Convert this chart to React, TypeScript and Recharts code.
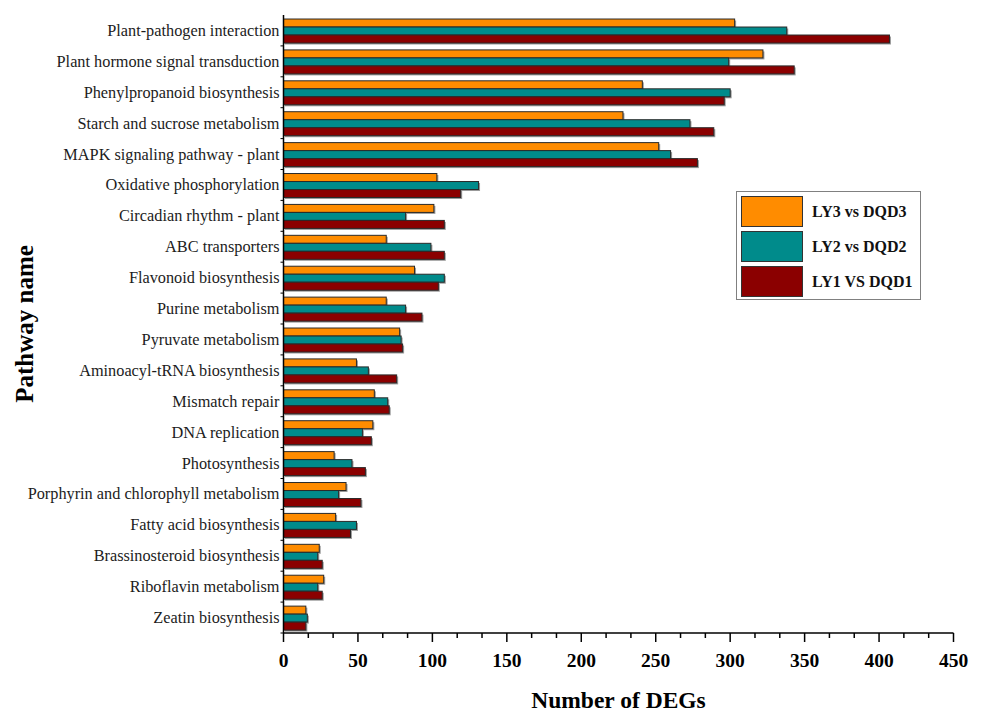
import React from 'react'
import { BarChart, Bar, XAxis, YAxis } from 'recharts'

const pathways = [
  'Plant-pathogen interaction',
  'Plant hormone signal transduction',
  'Phenylpropanoid biosynthesis',
  'Starch and sucrose metabolism',
  'MAPK signaling pathway - plant',
  'Oxidative phosphorylation',
  'Circadian rhythm - plant',
  'ABC transporters',
  'Flavonoid biosynthesis',
  'Purine metabolism',
  'Pyruvate metabolism',
  'Aminoacyl-tRNA biosynthesis',
  'Mismatch repair',
  'DNA replication',
  'Photosynthesis',
  'Porphyrin and chlorophyll metabolism',
  'Fatty acid biosynthesis',
  'Brassinosteroid biosynthesis',
  'Riboflavin metabolism',
  'Zeatin biosynthesis',
]

const ly3 = [303, 322, 241, 228, 252, 103, 101, 69, 88, 69, 78, 49, 61, 60, 34, 42, 35, 24, 27, 15]
const ly2 = [338, 299, 300, 273, 260, 131, 82, 99, 108, 82, 79, 57, 70, 53, 46, 37, 49, 23, 23, 16]
const ly1 = [407, 343, 296, 289, 278, 119, 108, 108, 104, 93, 80, 76, 71, 59, 55, 52, 45, 26, 26, 15]

const seriesKeys = ['ly3', 'ly2', 'ly1']
const seriesNames = ['LY3 vs DQD3', 'LY2 vs DQD2', 'LY1 VS DQD1']
const seriesColors = ['#FF8C00', '#008B8B', '#8B0000']

const majorTicks = [0, 50, 100, 150, 200, 250, 300, 350, 400, 450]
// two minor ticks between each labelled one
const xTicks = majorTicks.flatMap((t, i) =>
  i < majorTicks.length - 1 ? [t, t + 50 / 3, t + 100 / 3] : [t]
)

const data = pathways.map((name, i) => ({ name, ly3: ly3[i], ly2: ly2[i], ly1: ly1[i] }))

const FONT = "'Liberation Serif', 'Times New Roman', serif"
const HALF_BAND = 15.45

function ShadowBar(props: any) {
  const { x, y, width, height, fill } = props
  if (!width || width <= 0) return null
  return (
    <g>
      <rect x={x + 1.5} y={y + 1.5} width={width} height={height} fill="#9c9c9c" />
      <rect x={x} y={y} width={width} height={height} fill={fill} stroke="#2a2a2a" strokeWidth={1} />
    </g>
  )
}

function XTick(props: any) {
  const { x, y, payload } = props
  const v = payload.value
  const major = Math.abs(v / 50 - Math.round(v / 50)) < 1e-6
  return (
    <g>
      <line x1={x} x2={x} y1={y} y2={y + (major ? 9 : 5)} stroke="#000" strokeWidth={1.5} />
      {major && (
        <text x={x} y={y + 27} textAnchor="middle" dominantBaseline="central"
          fontFamily={FONT} fontWeight="bold" fontSize={19.5} fill="#000">
          {Math.round(v)}
        </text>
      )}
    </g>
  )
}

function YTick(props: any) {
  const { x, y, payload } = props
  return (
    <g>
      <line x1={x - 3} x2={x} y1={y + HALF_BAND} y2={y + HALF_BAND} stroke="#000" strokeWidth={1} />
      <text x={x - 4} y={y} textAnchor="end" dominantBaseline="central"
        fontFamily={FONT} fontSize={16.3} fill="#1c1c1c">
        {payload.value}
      </text>
    </g>
  )
}

function LegendBox() {
  return (
    <div style={{
      position: 'absolute', left: 736, top: 191,
      width: 185, height: 109, boxSizing: 'border-box', border: '1px solid #808080',
      padding: '4px 0 0 4px', background: '#fff',
    }}>
      {seriesNames.map((n, i) => (
        <div key={n} style={{ display: 'flex', alignItems: 'center', height: 31, marginBottom: 4 }}>
          <div style={{
            width: 62, height: 31, boxSizing: 'border-box', background: seriesColors[i],
            border: '1px solid #333', flexShrink: 0,
          }} />
          <span style={{
            marginLeft: 9, fontFamily: FONT, fontWeight: 'bold', fontSize: 16, color: '#111', whiteSpace: 'nowrap',
          }}>{n}</span>
        </div>
      ))}
    </div>
  )
}

export default function App() {
  return (
    <div style={{ position: 'absolute', left: 0, top: 0, width: 986, height: 713, background: '#fff' }}>
      <BarChart
        width={986}
        height={713}
        data={data}
        layout="vertical"
        margin={{ top: 15, right: 32.5, bottom: 30, left: 0 }}
        barCategoryGap="13%"
        barGap={0}
      >
        <XAxis
          type="number"
          domain={[0, 450]}
          ticks={xTicks}
          interval={0}
          height={50}
          tickSize={0}
          tickMargin={0}
          tickLine={false}
          tick={<XTick />}
          axisLine={{ stroke: '#000', strokeWidth: 1.5 }}
          label={{
            content: ({ viewBox }: any) => (
              <text x={viewBox.x + viewBox.width / 2} y={viewBox.y + 67} textAnchor="middle"
                dominantBaseline="central" fontFamily={FONT} fontWeight="bold" fontSize={23.5} fill="#000">
                Number of DEGs
              </text>
            ),
          }}
        />
        <YAxis
          type="category"
          dataKey="name"
          width={283.5}
          interval={0}
          tickSize={0}
          tickMargin={0}
          tickLine={false}
          tick={<YTick />}
          axisLine={{ stroke: '#000', strokeWidth: 1.5 }}
          label={{
            content: ({ viewBox }: any) => {
              const cy = viewBox.y + viewBox.height / 2
              return (
                <text x={24} y={cy} transform={`rotate(-90 24 ${cy})`} textAnchor="middle"
                  dominantBaseline="central" fontFamily={FONT} fontWeight="bold" fontSize={25} fill="#000">
                  Pathway name
                </text>
              )
            },
          }}
        />
        {seriesKeys.map((k, i) => (
          <Bar key={k} dataKey={k} name={seriesNames[i]} fill={seriesColors[i]}
            shape={<ShadowBar />} isAnimationActive={false} />
        ))}
      </BarChart>
      <LegendBox />
    </div>
  )
}
